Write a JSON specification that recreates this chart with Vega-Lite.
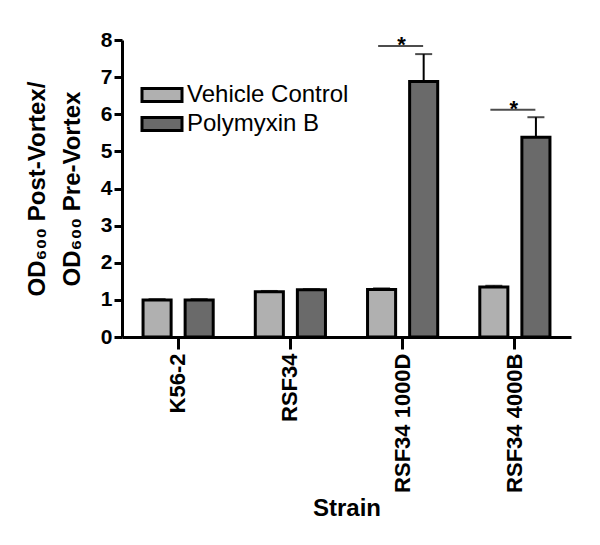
{
  "$schema": "https://vega.github.io/schema/vega-lite/v6.json",
  "width": 449,
  "height": 297,
  "autosize": {"type": "none"},
  "padding": {"left": 122, "top": 40, "right": 29, "bottom": 208},
  "background": "white",
  "config": {
    "view": {"stroke": null},
    "font": "Liberation Sans",
    "axis": {"grid": false, "domainColor": "black", "domainWidth": 3, "tickColor": "black", "tickWidth": 3, "labelColor": "black", "titleColor": "black", "labelFont": "Liberation Sans", "titleFont": "Liberation Sans", "labelFontWeight": "bold", "titleFontWeight": "bold", "labelOverlap": false}
  },
  "datasets": {
    "bars": [
      {"strain": "K56-2", "treatment": "Vehicle Control", "mean": 1.0, "upper": 1.02},
      {"strain": "K56-2", "treatment": "Polymyxin B", "mean": 1.0, "upper": 1.02},
      {"strain": "RSF34", "treatment": "Vehicle Control", "mean": 1.22, "upper": 1.24},
      {"strain": "RSF34", "treatment": "Polymyxin B", "mean": 1.27, "upper": 1.29},
      {"strain": "RSF34 1000D", "treatment": "Vehicle Control", "mean": 1.28, "upper": 1.31},
      {"strain": "RSF34 1000D", "treatment": "Polymyxin B", "mean": 6.88, "upper": 7.62},
      {"strain": "RSF34 4000B", "treatment": "Vehicle Control", "mean": 1.35, "upper": 1.38},
      {"strain": "RSF34 4000B", "treatment": "Polymyxin B", "mean": 5.38, "upper": 5.92}
    ],
    "sig": [
      {"strain": "RSF34 1000D", "level": 7.84, "label": "*"},
      {"strain": "RSF34 4000B", "level": 6.12, "label": "*"}
    ]
  },
  "encoding": {
    "x": {
      "field": "strain", "type": "nominal",
      "sort": ["K56-2", "RSF34", "RSF34 1000D", "RSF34 4000B"],
      "scale": {"paddingInner": 0, "paddingOuter": 0},
      "axis": {"title": "Strain", "titleFontSize": 24, "titlePadding": 4, "labelAngle": -90, "labelAlign": "right", "labelBaseline": "middle", "labelFontSize": 22, "labelPadding": 4, "tickSize": 12}
    },
    "y": {
      "field": "mean", "type": "quantitative",
      "scale": {"domain": [0, 8], "nice": false},
      "axis": {"title": ["OD₆₀₀ Post-Vortex/", "OD₆₀₀ Pre-Vortex"], "titleFontSize": 24, "titleLineHeight": 35, "titlePadding": 16, "values": [0, 1, 2, 3, 4, 5, 6, 7, 8], "labelFontSize": 21, "labelPadding": 2, "tickSize": 8}
    }
  },
  "layer": [
    {
      "data": {"name": "bars"},
      "mark": {"type": "bar", "stroke": "black", "strokeWidth": 3},
      "encoding": {
        "xOffset": {"field": "treatment", "type": "nominal", "sort": ["Vehicle Control", "Polymyxin B"], "scale": {"paddingInner": 0.333, "paddingOuter": 0.5}},
        "fill": {
          "field": "treatment", "type": "nominal",
          "sort": ["Vehicle Control", "Polymyxin B"],
          "scale": {"domain": ["Vehicle Control", "Polymyxin B"], "range": ["#b0b0b0", "#6a6a6a"]},
          "legend": {"title": null, "orient": "none", "legendX": 28, "legendY": 43, "symbolType": "M-2,-0.65H2V0.65H-2Z", "symbolSize": 400, "symbolStrokeColor": "black", "symbolStrokeWidth": 3, "symbolOpacity": 1, "labelFontSize": 24, "labelLimit": 400, "labelFont": "Liberation Sans", "labelColor": "black", "labelOffset": 13, "rowPadding": 3}
        }
      }
    },
    {
      "data": {"name": "bars"},
      "mark": {"type": "rule", "color": "black", "strokeWidth": 2},
      "encoding": {
        "xOffset": {"field": "treatment", "type": "nominal", "sort": ["Vehicle Control", "Polymyxin B"], "scale": {"paddingInner": 0.333, "paddingOuter": 0.5}},
        "y2": {"field": "upper"}
      }
    },
    {
      "data": {"name": "bars"},
      "mark": {"type": "tick", "orient": "horizontal", "color": "black", "thickness": 2, "size": 17},
      "encoding": {
        "xOffset": {"field": "treatment", "type": "nominal", "sort": ["Vehicle Control", "Polymyxin B"], "scale": {"paddingInner": 0.333, "paddingOuter": 0.5}},
        "y": {"field": "upper", "type": "quantitative"}
      }
    },
    {
      "data": {"name": "sig"},
      "mark": {"type": "tick", "orient": "horizontal", "color": "black", "thickness": 2, "size": 45, "xOffset": -2},
      "encoding": {
        "y": {"field": "level", "type": "quantitative"}
      }
    },
    {
      "data": {"name": "sig"},
      "mark": {"type": "text", "color": "black", "fontSize": 22, "fontWeight": "bold", "baseline": "alphabetic", "dy": 6, "dx": -1, "font": "Liberation Sans"},
      "encoding": {
        "y": {"field": "level", "type": "quantitative"},
        "text": {"field": "label"}
      }
    }
  ]
}
